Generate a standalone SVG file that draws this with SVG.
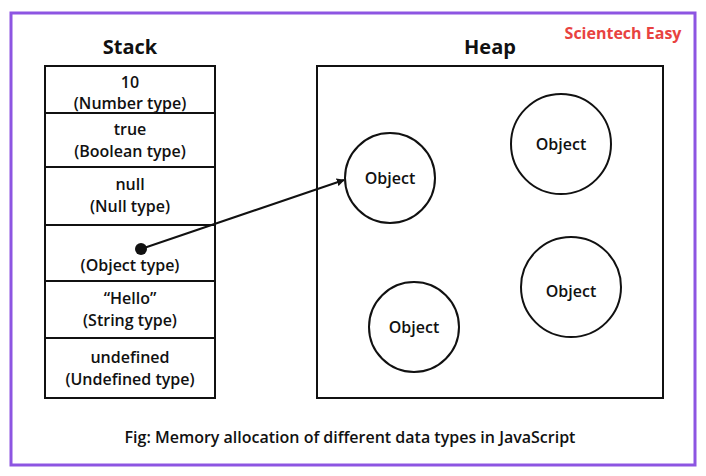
<svg xmlns="http://www.w3.org/2000/svg" width="706" height="476" viewBox="0 0 706 476">
<defs>
<style>
.t{font-family:"Open Sans","Liberation Sans",sans-serif;font-weight:600;font-size:16px;fill:#111;text-anchor:middle}
.h{font-family:"Open Sans","Liberation Sans",sans-serif;font-weight:700;font-size:20px;fill:#111;text-anchor:middle}
.box{fill:#fff;stroke:#111;stroke-width:2}
.c{fill:#fff;stroke:#111;stroke-width:2}
</style>
<marker id="ah" viewBox="0 0 10 10" refX="9" refY="5" markerWidth="8" markerHeight="8" markerUnits="userSpaceOnUse" orient="auto"><path d="M0,0 L10,5 L0,10 z" fill="#111"/></marker>
</defs>
<rect x="0" y="0" width="706" height="476" fill="#fff"/>
<rect x="11" y="13" width="684" height="452" fill="#fff" stroke="#8d55e2" stroke-width="3"/>
<text x="623" y="39" class="t" style="fill:#e8423f;font-size:16px;font-weight:700">Scientech Easy</text>
<text x="130" y="54" class="h">Stack</text>
<text x="490" y="54" class="h">Heap</text>
<g id="stack">
<rect x="45" y="66" width="170" height="332" class="box"/>
<line x1="45" y1="113" x2="215" y2="113" stroke="#111" stroke-width="2"/>
<line x1="45" y1="167" x2="215" y2="167" stroke="#111" stroke-width="2"/>
<line x1="45" y1="225" x2="215" y2="225" stroke="#111" stroke-width="2"/>
<line x1="45" y1="281" x2="215" y2="281" stroke="#111" stroke-width="2"/>
<line x1="45" y1="338" x2="215" y2="338" stroke="#111" stroke-width="2"/>
</g>
<g id="s1"><text x="130" y="88" class="t">10</text><text x="130" y="109" class="t">(Number type)</text></g>
<g id="s2"><text x="130" y="135" class="t">true</text><text x="130" y="157" class="t">(Boolean type)</text></g>
<g id="s3"><text x="130" y="190" class="t">null</text><text x="130" y="212" class="t">(Null type)</text></g>
<g id="s4"><circle cx="141" cy="249" r="6" fill="#111"/><text x="130" y="271" class="t">(Object type)</text></g>
<g id="s5"><text x="130" y="304" class="t">“Hello”</text><text x="130" y="326" class="t">(String type)</text></g>
<g id="s6"><text x="130" y="363" class="t">undefined</text><text x="130" y="385" class="t">(Undefined type)</text></g>
<g id="heap"><rect x="317" y="66" width="346" height="332" class="box"/></g>
<g id="obj1"><circle cx="390" cy="178" r="45" class="c"/><text x="390" y="184" class="t">Object</text></g>
<g id="obj2"><circle cx="561" cy="144" r="50" class="c"/><text x="561" y="150" class="t">Object</text></g>
<g id="obj3"><circle cx="571" cy="287" r="50" class="c"/><text x="571" y="297" class="t">Object</text></g>
<g id="obj4"><circle cx="414" cy="327" r="45" class="c"/><text x="414" y="333" class="t">Object</text></g>
<g id="connectors">
<line x1="141" y1="249" x2="344" y2="180" stroke="#111" stroke-width="2" marker-end="url(#ah)"/>
</g>
<text x="350" y="443" class="t">Fig: Memory allocation of different data types in JavaScript</text>
</svg>
